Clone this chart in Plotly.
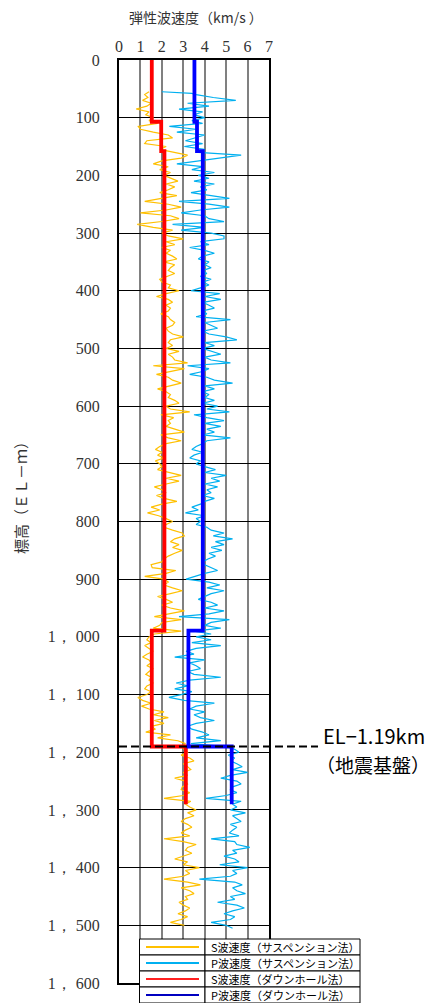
import plotly.graph_objects as go

# ---------------- data ----------------
# Downhole (step) velocity profiles: depth (m) / velocity (km/s)
S_DH_DEPTH = [0, 107, 107, 158, 158, 989, 989, 1190, 1190, 1290]
S_DH_VEL = [1.53, 1.53, 1.97, 1.97, 2.12, 2.12, 1.53, 1.53, 3.12, 3.12]
P_DH_DEPTH = [0, 107, 107, 158, 158, 989, 989, 1190, 1190, 1290]
P_DH_VEL = [3.52, 3.52, 3.64, 3.64, 3.91, 3.91, 3.24, 3.24, 5.26, 5.26]

# Suspension logging S-wave (depth, velocity)
S_SUS = [
    (55, 1.4), (60, 1.2), (65, 1.35), (70, 1.1), (75, 1.5), (80, 1.3), (85, 0.8), (90, 1.4), (95, 1.25),
    (100, 1.6), (105, 1.4), (110, 1.8), (115, 0.9), (120, 1.0), (125, 1.6), (130, 2.3), (135, 2.5), (140, 1.3),
    (145, 1.2), (150, 2.2), (155, 1.9), (160, 2.6), (165, 3.2), (170, 2.9), (175, 2.0), (180, 1.6), (185, 2.3),
    (190, 1.9), (195, 2.4),
    (200, 2.1), (205, 2.4), (210, 2.75), (215, 2.2), (220, 2.6), (225, 2.3), (230, 1.9), (235, 2.7), (240, 2.0),
    (245, 1.2), (250, 2.3), (255, 2.9), (260, 2.2), (265, 1.0), (270, 2.4), (275, 2.8), (280, 2.0), (285, 0.85),
    (290, 1.6), (295, 2.5),
    (300, 2.0), (305, 2.3), (310, 3.0), (315, 2.2), (320, 2.6), (325, 2.0), (330, 2.4), (335, 2.2), (340, 2.5),
    (345, 2.7), (350, 2.1), (355, 2.6), (360, 2.4), (365, 2.3), (370, 2.6), (375, 2.2), (380, 1.9), (385, 2.0),
    (390, 2.4), (395, 2.3),
    (400, 2.8), (405, 2.2), (410, 1.75), (415, 2.3), (420, 2.5), (425, 2.2), (430, 2.4), (435, 2.3), (440, 1.95),
    (445, 2.3), (450, 2.4), (455, 2.6), (460, 2.5), (465, 2.2), (470, 2.3), (475, 2.5), (480, 3.0), (485, 2.4),
    (490, 2.3), (495, 2.5),
    (500, 2.2), (505, 2.8), (510, 2.3), (515, 2.5), (520, 2.6), (525, 3.2), (530, 1.6), (535, 3.05), (540, 2.4),
    (545, 1.75), (550, 2.3), (555, 2.5), (560, 2.9), (565, 2.3), (570, 1.8), (575, 2.2), (580, 2.4), (585, 2.3),
    (590, 2.6), (595, 2.8),
    (600, 2.2), (605, 2.4), (610, 3.3), (615, 1.95), (620, 2.55), (625, 2.3), (630, 2.4), (635, 2.2), (640, 2.6),
    (645, 3.05), (650, 1.95), (655, 2.3), (660, 2.9), (665, 2.2), (670, 1.9), (675, 1.7), (680, 2.0), (685, 1.8),
    (690, 2.1), (695, 1.7),
    (700, 1.9), (705, 2.0), (710, 1.8), (715, 2.3), (720, 2.9), (725, 2.2), (730, 2.8), (735, 2.2), (740, 1.65),
    (745, 2.0), (750, 2.2), (755, 1.75), (760, 2.1), (765, 2.7), (770, 2.0), (775, 1.5), (780, 1.9), (785, 1.33),
    (790, 1.85), (795, 2.2),
    (800, 2.5), (805, 2.2), (810, 2.1), (815, 2.5), (820, 2.95), (825, 3.05), (830, 2.6), (835, 2.4), (840, 2.8),
    (845, 2.5), (850, 2.95), (855, 2.6), (860, 2.3), (865, 2.1), (870, 2.0), (875, 1.5), (880, 1.55), (885, 2.65),
    (890, 2.2), (895, 1.2),
    (900, 2.1), (905, 2.3), (910, 2.1), (915, 2.5), (920, 2.95), (925, 2.4), (930, 1.8), (935, 2.2), (940, 2.5),
    (945, 2.0), (950, 2.4), (955, 3.05), (960, 2.3), (965, 1.65), (970, 2.9), (975, 2.0), (980, 1.9), (985, 1.6),
    (990, 2.9), (995, 1.65),
    (1000, 1.4), (1005, 1.3), (1010, 1.5), (1015, 1.2), (1020, 1.4), (1025, 1.6), (1030, 1.3), (1035, 1.1),
    (1040, 1.4), (1045, 1.5), (1050, 1.3), (1055, 1.6), (1060, 1.4), (1065, 1.25), (1070, 1.5), (1075, 1.4),
    (1080, 1.6), (1085, 1.3), (1090, 1.2), (1095, 1.5),
    (1100, 1.3), (1105, 0.88), (1110, 1.1), (1115, 1.5), (1120, 1.05), (1125, 1.4), (1130, 2.1), (1135, 1.6),
    (1140, 2.3), (1145, 1.65), (1150, 2.1), (1155, 1.5), (1160, 1.7), (1165, 1.25), (1170, 2.4), (1175, 1.8),
    (1180, 2.75), (1185, 3.1), (1190, 2.9), (1195, 3.05),
    (1200, 3.2), (1205, 2.9), (1210, 3.3), (1215, 3.5), (1220, 3.0), (1225, 3.2), (1230, 3.35), (1235, 3.0),
    (1240, 3.2), (1245, 2.6), (1250, 3.1), (1255, 3.2), (1260, 2.95), (1265, 2.9), (1270, 3.3), (1275, 3.0),
    (1280, 2.1), (1285, 3.35), (1290, 3.1), (1295, 3.3),
    (1300, 3.6), (1305, 3.2), (1310, 3.5), (1315, 3.1), (1320, 2.9), (1325, 3.2), (1330, 3.4), (1335, 3.1),
    (1340, 2.9), (1345, 3.3), (1350, 2.1), (1355, 3.0), (1360, 3.6), (1365, 3.2), (1370, 3.1), (1375, 3.4),
    (1380, 3.0), (1385, 2.6), (1390, 3.2), (1395, 3.0),
    (1400, 3.75), (1405, 3.1), (1410, 3.3), (1415, 3.0), (1420, 2.1), (1425, 3.2), (1430, 3.8), (1435, 2.9),
    (1440, 3.3), (1445, 3.5), (1450, 3.1), (1455, 3.2), (1460, 2.8), (1465, 3.0), (1470, 3.3), (1475, 3.1),
    (1480, 2.75), (1485, 3.2), (1490, 2.9), (1495, 2.4), (1500, 3.05),
]

# Suspension logging P-wave (depth, velocity)
P_SUS = [
    (55, 2.0), (58, 3.4), (60, 3.6), (65, 4.4), (70, 5.45), (75, 3.2), (80, 4.2), (85, 2.8), (90, 3.9), (95, 3.5),
    (100, 4.0), (105, 3.4), (110, 3.9), (115, 2.35), (120, 3.6), (125, 2.7), (130, 4.0), (135, 3.6), (140, 3.1),
    (145, 3.9), (150, 3.05), (155, 4.0), (160, 3.7), (165, 5.7), (170, 4.75), (175, 3.6), (180, 2.7), (185, 3.9),
    (190, 3.4), (195, 4.45),
    (200, 3.7), (205, 4.2), (210, 3.5), (215, 4.45), (220, 3.8), (225, 4.1), (230, 3.36), (235, 4.3), (240, 5.15),
    (245, 2.8), (250, 4.2), (255, 5.15), (260, 3.8), (265, 2.9), (270, 4.0), (275, 4.2), (280, 4.9), (285, 2.5),
    (290, 4.0), (295, 2.9),
    (300, 4.3), (305, 4.9), (310, 4.9), (315, 3.8), (320, 4.2), (325, 3.3), (330, 4.0), (335, 4.45), (340, 3.9),
    (345, 3.7), (350, 4.2), (355, 4.0), (360, 4.3), (365, 3.9), (370, 4.1), (375, 3.8), (380, 4.3), (385, 3.9),
    (390, 4.2), (395, 3.8),
    (400, 3.36), (405, 4.7), (410, 4.0), (415, 4.75), (420, 3.9), (425, 4.2), (430, 4.45), (435, 3.9), (440, 4.1),
    (445, 3.6), (450, 5.2), (455, 4.0), (460, 4.3), (465, 4.6), (470, 3.9), (475, 4.2), (480, 5.0), (485, 5.5),
    (490, 4.0), (495, 4.45),
    (500, 3.9), (505, 4.3), (510, 4.75), (515, 4.0), (520, 4.3), (525, 5.2), (530, 3.2), (535, 4.2), (540, 3.9),
    (545, 3.3), (550, 4.1), (555, 4.45), (560, 5.3), (565, 4.0), (570, 4.45), (575, 3.9), (580, 4.2), (585, 4.0),
    (590, 4.45), (595, 3.9),
    (600, 4.6), (605, 4.1), (610, 5.15), (615, 3.5), (620, 4.1), (625, 4.9), (630, 4.0), (635, 4.75), (640, 4.1),
    (645, 4.45), (650, 3.9), (655, 5.2), (660, 4.1), (665, 3.9), (670, 3.6), (675, 3.4), (680, 3.9), (685, 3.5),
    (690, 3.3), (695, 3.8),
    (700, 3.6), (705, 4.0), (710, 4.5), (715, 4.0), (720, 5.0), (725, 4.3), (730, 4.7), (735, 4.0), (740, 4.6),
    (745, 4.1), (750, 4.3), (755, 3.9), (760, 4.45), (765, 4.0), (770, 3.8), (775, 3.4), (780, 3.7), (785, 3.1),
    (790, 4.0), (795, 3.6),
    (800, 3.8), (805, 3.6), (810, 4.1), (815, 4.3), (820, 4.9), (825, 4.4), (830, 5.3), (835, 4.5), (840, 4.9),
    (845, 4.3), (850, 4.8), (855, 4.2), (860, 4.5), (865, 4.15), (870, 3.9), (875, 4.0), (880, 4.3), (885, 4.6),
    (890, 4.0), (895, 3.5),
    (900, 3.13), (905, 4.2), (910, 4.7), (915, 4.1), (920, 4.9), (925, 4.3), (930, 4.0), (935, 3.7), (940, 4.3),
    (945, 4.6), (950, 4.0), (955, 4.9), (960, 4.2), (965, 2.8), (970, 5.15), (975, 4.3), (980, 4.0), (985, 4.75),
    (990, 3.5), (995, 4.3),
    (1000, 3.6), (1005, 4.3), (1010, 3.4), (1015, 4.75), (1020, 3.6), (1025, 3.13), (1030, 3.5), (1035, 2.6),
    (1040, 4.0), (1045, 3.3), (1050, 3.6), (1055, 3.8), (1060, 3.2), (1065, 3.5), (1070, 4.75), (1075, 3.3),
    (1080, 2.67), (1085, 3.2), (1090, 2.6), (1095, 3.4),
    (1100, 2.9), (1105, 2.33), (1110, 3.05), (1115, 4.45), (1120, 3.6), (1125, 3.3), (1130, 4.0), (1135, 3.5),
    (1140, 3.8), (1145, 4.45), (1150, 3.6), (1155, 3.2), (1160, 3.4), (1165, 3.9), (1170, 4.2), (1175, 3.6),
    (1180, 4.75), (1185, 3.36), (1190, 5.0), (1195, 5.4),
    (1200, 5.6), (1205, 5.1), (1210, 5.4), (1215, 5.2), (1220, 5.5), (1225, 5.75), (1230, 5.3), (1235, 6.0),
    (1240, 5.2), (1245, 4.75), (1250, 5.5), (1255, 5.7), (1260, 5.3), (1265, 5.2), (1270, 5.5), (1275, 5.0),
    (1280, 4.06), (1285, 5.7), (1290, 5.3), (1295, 5.5),
    (1300, 5.2), (1305, 5.9), (1310, 5.3), (1315, 5.5), (1320, 5.7), (1325, 5.2), (1330, 5.5), (1335, 5.3),
    (1340, 5.15), (1345, 5.6), (1350, 4.3), (1355, 5.4), (1360, 5.5), (1365, 6.1), (1370, 5.3), (1375, 5.5),
    (1380, 4.9), (1385, 5.4), (1390, 5.6), (1395, 4.7),
    (1400, 6.0), (1405, 5.3), (1410, 5.5), (1415, 5.2), (1420, 3.75), (1425, 5.4), (1430, 5.75), (1435, 5.3),
    (1440, 5.5), (1445, 5.9), (1450, 5.2), (1455, 5.4), (1460, 4.6), (1465, 5.5), (1470, 5.85), (1475, 5.3),
    (1480, 4.9), (1485, 5.4), (1490, 5.2), (1495, 4.3), (1500, 5.0), (1505, 5.3),
]

Y_TICKS = [0, 100, 200, 300, 400, 500, 600, 700, 800, 900, 1000, 1100, 1200, 1300, 1400, 1500, 1600]
Y_TICKTEXT = ["0", "100", "200", "300", "400", "500", "600", "700", "800", "900",
              "1，\u00a0000", "1，\u00a0100", "1，\u00a0200", "1，\u00a0300", "1，\u00a0400", "1，\u00a0500",
              "1，\u00a0600"]
X_TICKS = [0, 1, 2, 3, 4, 5, 6, 7]

BASEMENT_DEPTH = 1190

LEGEND_LABELS = ["S波速度（サスペンション法）", "P波速度（サスペンション法）",
                 "S波速度（ダウンホール法）", "P波速度（ダウンホール法）"]

# ---------------- styling ----------------
W, H = 434, 1003
L, R, T, B = 119, 269, 60, 983  # plot area in pixels
C_S_SUS = "#FFC000"
C_P_SUS = "#00B0F0"
C_S_DH = "#FF0000"
C_P_DH = "#0000FF"
LEG_COLORS = ["#FFC000", "#00B0F0", "#FF2020", "#0000C0"]
SERIF = "Liberation Serif"
CJK = "Noto Sans CJK JP"


def px(x):
    return (x - L) / (R - L)


def py(y):
    return (B - y) / (B - T)


fig = go.Figure()
fig.add_trace(go.Scatter(x=[v for _, v in S_SUS], y=[d for d, _ in S_SUS], mode="lines",
                         line=dict(color=C_S_SUS, width=1.2), name=LEGEND_LABELS[0], showlegend=False))
fig.add_trace(go.Scatter(x=[v for _, v in P_SUS], y=[d for d, _ in P_SUS], mode="lines",
                         line=dict(color=C_P_SUS, width=1.2), name=LEGEND_LABELS[1], showlegend=False))
fig.add_trace(go.Scatter(x=S_DH_VEL, y=S_DH_DEPTH, mode="lines",
                         line=dict(color=C_S_DH, width=3.8), name=LEGEND_LABELS[2], showlegend=False))
fig.add_trace(go.Scatter(x=P_DH_VEL, y=P_DH_DEPTH, mode="lines",
                         line=dict(color=C_P_DH, width=3.8), name=LEGEND_LABELS[3], showlegend=False))

shapes = []
# basement dashed line
shapes.append(dict(type="line", xref="paper", yref="y", x0=0, x1=px(318), y0=BASEMENT_DEPTH,
                   y1=BASEMENT_DEPTH, line=dict(color="black", width=2, dash="8px,4px"), layer="above"))

# legend table
rows = [939, 955, 971, 987, 1003]
c0, c1, c2 = 139.5, 205, 360
annotations = []
for i in range(4):
    y0, y1 = rows[i], rows[i + 1]
    shapes.append(dict(type="rect", xref="paper", yref="paper", x0=px(c0), x1=px(c1), y0=py(y1), y1=py(y0),
                       fillcolor="white", line=dict(color="black", width=1), layer="above"))
    shapes.append(dict(type="rect", xref="paper", yref="paper", x0=px(c1), x1=px(c2), y0=py(y1), y1=py(y0),
                       fillcolor="white", line=dict(color="black", width=1), layer="above"))
    yc = (y0 + y1) / 2
    shapes.append(dict(type="line", xref="paper", yref="paper", x0=px(146), x1=px(199), y0=py(yc), y1=py(yc),
                       line=dict(color=LEG_COLORS[i], width=2), layer="above"))
    annotations.append(dict(text=LEGEND_LABELS[i], xref="paper", yref="paper", x=px(209), y=py(yc),
                            xanchor="left", yanchor="middle", showarrow=False,
                            font=dict(family=CJK, size=11, color="black")))

annotations += [
    dict(text="弾性波速度（km/s ）", xref="paper", yref="paper", x=px(196), y=py(17),
         xanchor="center", yanchor="middle", showarrow=False, font=dict(family=CJK, size=14, color="#333")),
    dict(text="標高（ＥＬ－ｍ）", xref="paper", yref="paper", x=px(20), y=py(494), textangle=-90,
         xanchor="center", yanchor="middle", showarrow=False, font=dict(family=CJK, size=15, color="#333")),
    dict(text="EL−1.19km", xref="paper", yref="paper", x=px(321), y=py(735),
         xanchor="left", yanchor="middle", showarrow=False, font=dict(family=CJK, size=20, color="black")),
    dict(text="（地震基盤）", xref="paper", yref="paper", x=px(314), y=py(764),
         xanchor="left", yanchor="middle", showarrow=False, font=dict(family=CJK, size=19, color="black")),
]

fig.update_layout(
    width=W, height=H,
    margin=dict(l=L, r=W - R, t=T, b=H - B, pad=0),
    paper_bgcolor="white", plot_bgcolor="white",
    showlegend=False,
    shapes=shapes,
    annotations=annotations,
    xaxis=dict(range=[0, 7], side="top", tickvals=X_TICKS, ticktext=[str(v) for v in X_TICKS],
               showgrid=True, gridcolor="#808080", gridwidth=2, zeroline=False,
               showline=True, linecolor="black", linewidth=2, mirror=True, ticks="",
               tickfont=dict(family=SERIF, size=16, color="#333")),
    yaxis=dict(range=[1600, 0], tickvals=Y_TICKS, ticktext=Y_TICKTEXT,
               showgrid=True, gridcolor="black", gridwidth=1.4, zeroline=False,
               showline=True, linecolor="black", linewidth=2, mirror=True, ticks="",
               ticklabelstandoff=14,
               tickfont=dict(family=SERIF, size=16, color="#333")),
)

fig.write_html("out.html", config={"displayModeBar": False},
               post_script="document.body.style.margin='0';document.body.style.overflow='hidden';")
